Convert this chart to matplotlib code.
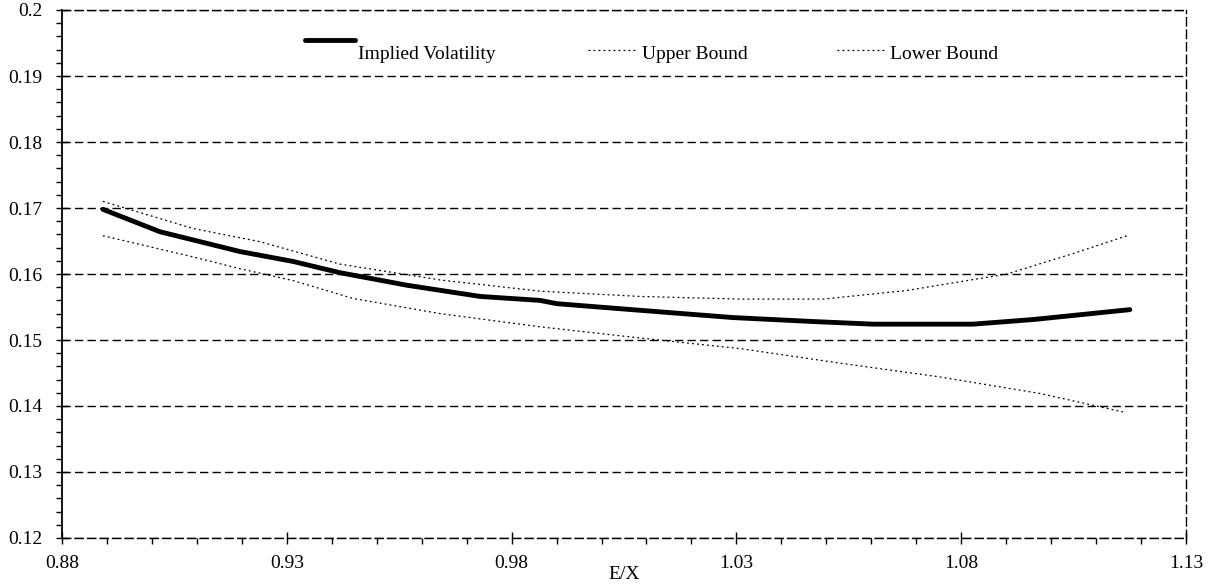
import matplotlib
matplotlib.use("Agg")
from matplotlib import pyplot as plt
import matplotlib.ticker as ticker

# data
iv_x = [0.8891, 0.9018, 0.9196, 0.9314, 0.9418, 0.9567, 0.9730, 0.9863, 0.9901,
        1.0086, 1.0292, 1.0470, 1.0604, 1.0826, 1.0960, 1.1175]
iv_y = [0.1698, 0.1664, 0.1634, 0.1619, 0.1602, 0.1583, 0.1566, 0.1560, 0.1555,
        0.1545, 0.1534, 0.1528, 0.1524, 0.1524, 0.1531, 0.1546]

up_x = [0.8891, 0.9091, 0.9240, 0.9418, 0.9641, 0.9863, 1.0086, 1.0308, 1.0493,
        1.0679, 1.0902, 1.1049, 1.1169]
up_y = [0.1710, 0.1669, 0.1649, 0.1615, 0.1591, 0.1574, 0.1566, 0.1562, 0.1562,
        0.1575, 0.1600, 0.1631, 0.1658]

lo_x = [0.8891, 0.9091, 0.9196, 0.9314, 0.9447, 0.9641, 0.9863, 1.0086, 1.0308,
        1.0530, 1.0753, 1.0975, 1.1160]
lo_y = [0.1658, 0.1626, 0.1608, 0.1590, 0.1563, 0.1540, 0.1520, 0.1503, 0.1487,
        0.1465, 0.1444, 0.1419, 0.1391]

x_ticks = [0.88, 0.93, 0.98, 1.03, 1.08, 1.13]
labels = ["Implied Volatility", "Upper Bound", "Lower Bound"]

plt.rcParams['font.family'] = ['Liberation Serif', 'DejaVu Serif']
fs = 14

fig = plt.figure(figsize=(12.09, 5.86), dpi=100)
ax = fig.add_axes([62 / 1209, 48 / 586, 1124 / 1209, 528 / 586])

dots = (0, (1.5, 2.5))
ax.plot(iv_x, iv_y, color='k', linewidth=3.5, solid_capstyle='round')
ax.plot(up_x, up_y, color='k', linewidth=0.9, linestyle=dots)
ax.plot(lo_x, lo_y, color='k', linewidth=0.9, linestyle=dots)

ax.set_xlim(0.88, 1.13)
ax.set_ylim(0.12, 0.2)

ax.xaxis.set_major_locator(ticker.FixedLocator(x_ticks))
ax.xaxis.set_minor_locator(ticker.MultipleLocator(0.01))
ax.yaxis.set_major_locator(ticker.MultipleLocator(0.01))
ax.yaxis.set_minor_locator(ticker.MultipleLocator(0.002))
fmt = ticker.FuncFormatter(lambda v, p: '%g' % round(v, 4))
ax.xaxis.set_major_formatter(fmt)
ax.yaxis.set_major_formatter(fmt)

ax.tick_params(axis='both', which='major', direction='inout', length=8, width=1,
               labelsize=fs, colors='k')
ax.tick_params(axis='both', which='minor', direction='out', length=4, width=1)
ax.tick_params(axis='y', which='major', pad=10)
ax.tick_params(axis='x', which='major', pad=8)

ax.grid(axis='y', which='major', color='k', linewidth=1, linestyle=(0, (6, 3)))

for side in ['top', 'bottom', 'right']:
    ax.spines[side].set_linestyle((0, (6, 3)))
    ax.spines[side].set_linewidth(1)
ax.spines['left'].set_linewidth(1.3)

ax.set_xlabel("E/X", fontsize=fs, labelpad=-4)

# legend drawn by hand to keep its odd layout
ax.plot([0.216, 0.261], [0.943, 0.943], transform=ax.transAxes, color='k',
        linewidth=3.5, solid_capstyle='round', clip_on=False)
ax.text(0.263, 0.915, labels[0], transform=ax.transAxes, fontsize=fs, va='center')
ax.plot([0.468, 0.512], [0.924, 0.924], transform=ax.transAxes, color='k',
        linewidth=0.9, linestyle=dots)
ax.text(0.516, 0.915, labels[1], transform=ax.transAxes, fontsize=fs, va='center')
ax.plot([0.6895, 0.732], [0.924, 0.924], transform=ax.transAxes, color='k',
        linewidth=0.9, linestyle=dots)
ax.text(0.7367, 0.915, labels[2], transform=ax.transAxes, fontsize=fs, va='center')

fig.savefig("out.png", dpi=100)
